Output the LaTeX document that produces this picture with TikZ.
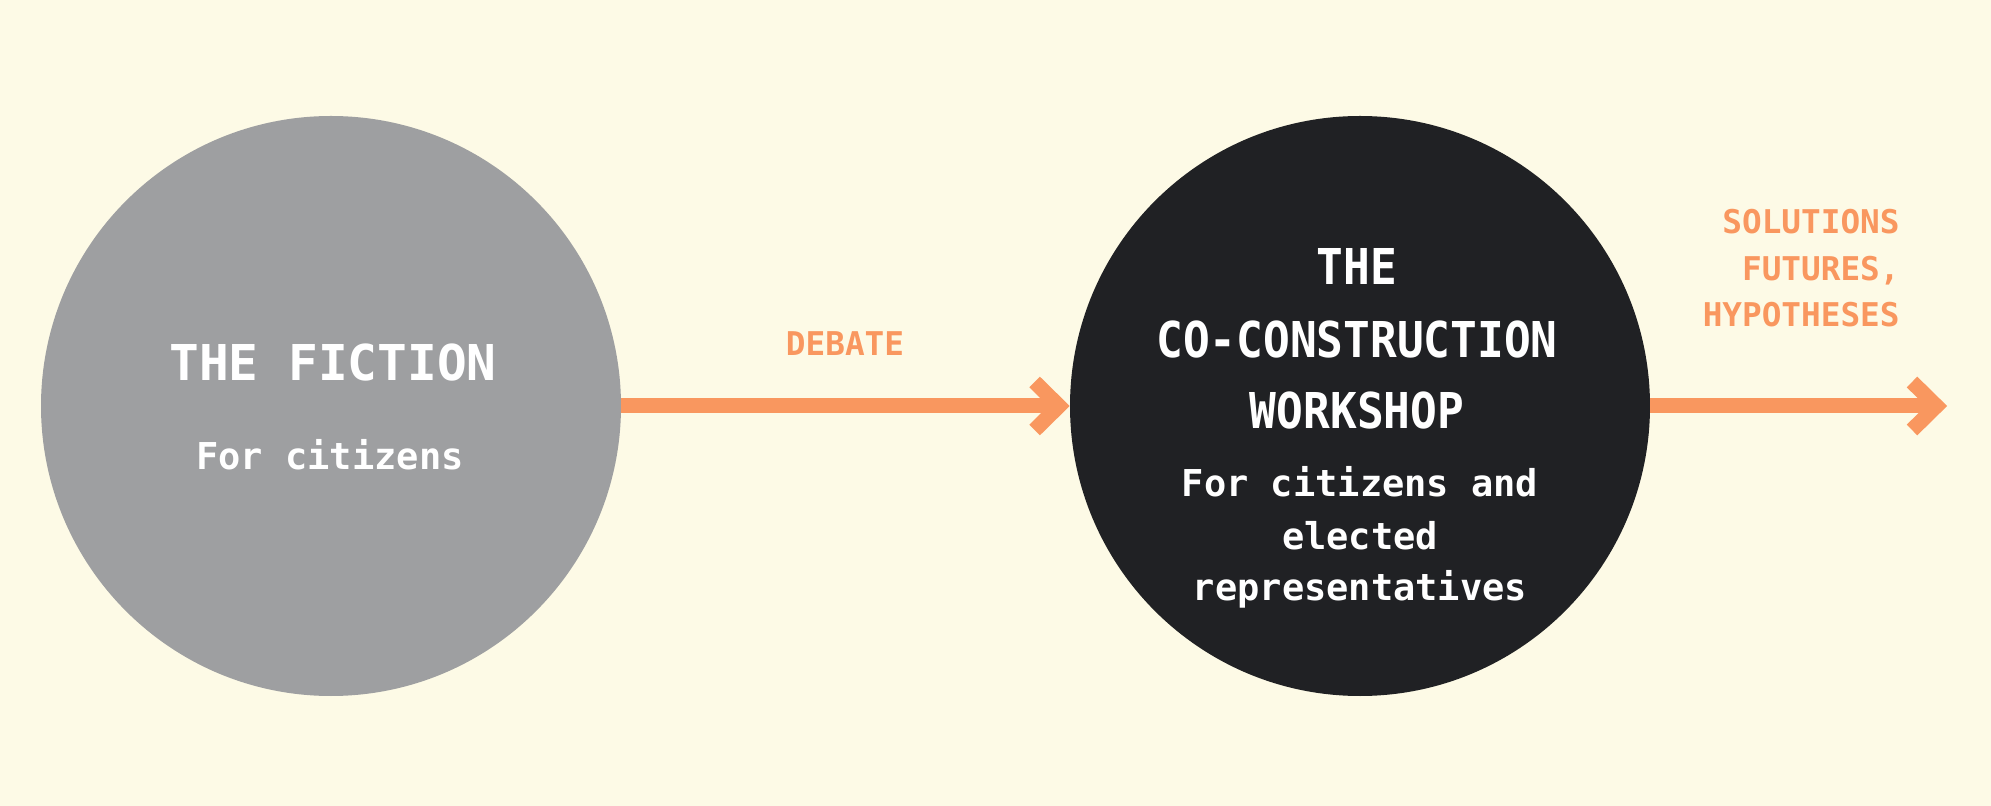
\documentclass[tikz,border=0pt]{standalone}
\usepackage{fontspec}
\setmonofont{DejaVu Sans Mono}
\usepackage{graphicx}
\usetikzlibrary{calc}
\definecolor{bgcream}{HTML}{FDFAE6}
\definecolor{fgray}{HTML}{9E9FA1}
\definecolor{fdark}{HTML}{202124}
\definecolor{forange}{HTML}{F9975F}
\begin{document}
\begin{tikzpicture}[x=0.5pt,y=-0.5pt,
  disc/.style={circle, minimum size=290pt, inner sep=0pt, draw=none},
  ttl/.style={font=\ttfamily\bfseries\fontsize{24.7}{30}\selectfont, text=white, anchor=base, inner sep=0pt},
  subt/.style={font=\ttfamily\bfseries\fontsize{18.5}{22}\selectfont, text=white, anchor=base, inner sep=0pt},
  lbl/.style={font=\ttfamily\bfseries\fontsize{16.35}{20}\selectfont, text=forange, inner sep=0pt},
  flow/.style={draw=forange, line width=7.5pt},
  chev/.style={draw=forange, line width=7.5pt, line join=miter},
]
\fill[bgcream] (0,0) rectangle (1991,806);
\useasboundingbox (0,0) rectangle (1991,806);

\node[disc, fill=fgray] (fic) at (331,406) {};
\node[disc, fill=fdark] (work) at (1360,406) {};
\coordinate (end) at (1947,406);

% connectors
\draw[flow] (fic.east) -- ($(work.west)+(-10,0)$);
\draw[chev] ($(work.west)+(-35,-24)$) -- ($(work.west)+(-10.6,0)$) -- ($(work.west)+(-35,24)$);
\draw[flow] (work.east) -- ($(end)+(-10,0)$);
\draw[chev] ($(end)+(-35,-24)$) -- ($(end)+(-10.6,0)$) -- ($(end)+(-35,24)$);

% left circle text
\node[ttl] (t1) at (333,381) {THE FICTION};
\node[subt] (s1) at (330,470) {For citizens};

% right circle text
\node[ttl] (w1) at (1357,285) {\scalebox{0.9}[1]{THE}};
\node[ttl] (w2) at (1357,358) {\scalebox{0.9}[1]{CO-CONSTRUCTION}};
\node[ttl] (w3) at (1357,429) {\scalebox{0.9}[1]{WORKSHOP}};
\node[subt] (ws1) at (1360,497) {For citizens and};
\node[subt] (ws2) at (1360,550) {elected};
\node[subt] (ws3) at (1360,601) {representatives};

% labels
\node[lbl, anchor=base] (deb) at (845,356) {DEBATE};
\node[lbl, anchor=base east] (o1) at (1900,234) {SOLUTIONS};
\node[lbl, anchor=base east] (o2) at (1900,281) {FUTURES,};
\node[lbl, anchor=base east] (o3) at (1900,327) {HYPOTHESES};
\end{tikzpicture}
\end{document}
